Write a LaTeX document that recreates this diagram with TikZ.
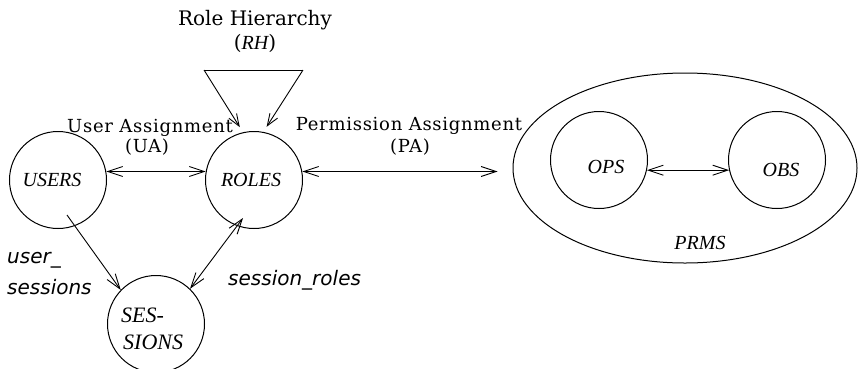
\documentclass[tikz,border=0pt]{standalone}
\usepackage{fontspec}
\setmainfont{DejaVu Serif}
\newfontfamily\spacedserif{DejaVu Serif}[LetterSpace=4]
\newfontfamily\timesf{Liberation Serif}
\newfontfamily\dvsans{DejaVu Sans}
\usetikzlibrary{arrows.meta,shapes.geometric,calc}
\tikzset{
  setnode/.style={circle, draw, line width=1pt, minimum size=97pt, inner sep=0pt},
  tip/.tip={Straight Barb[length=15pt,width=10pt]},
  smalltip/.tip={Straight Barb[length=12pt,width=9pt]},
  onearrow/.style={line width=0.9pt, -tip},
  twoarrow/.style={line width=0.9pt, tip-tip},
  setlbl/.style={font=\timesf\itshape\fontsize{20}{24}\selectfont, inner sep=0pt},
  rellbl/.style={font=\spacedserif\fontsize{18}{20}\selectfont, inner sep=0pt},
  sesslbl/.style={font=\dvsans\itshape\fontsize{20}{24}\selectfont, inner sep=0pt, anchor=west},
}
\begin{document}
\begin{tikzpicture}[x=1pt,y=-1pt]
\useasboundingbox (0,0) rectangle (858,368);
% sets
\node[setnode] (users) at (58,180) {};
\node[setnode] (roles) at (254,180) {};
\node[setnode] (sessions) at (156,324) {};
\node[ellipse, draw, line width=1pt, minimum width=344pt, minimum height=190pt, inner sep=0pt] (prms) at (685,168) {};
\node[setnode] (ops) at (599,160) {};
\node[setnode] (obs) at (777,160) {};
% set labels
\node[setlbl] (usersl) at (52,180) {USERS};
\node[setlbl] (rolesl) at (251,180) {ROLES};
\node[setlbl] (opsl) at (606,167) {OPS};
\node[setlbl] (obsl) at (781,170) {OBS};
\node[setlbl] (prmsl) at (700,243) {PRMS};
\node[setlbl, anchor=west, font=\timesf\itshape\fontsize{22}{24}\selectfont] (ses1) at (121,315) {SES-};
\node[setlbl, anchor=west, font=\timesf\itshape\fontsize{22}{24}\selectfont] (ses2) at (123,342) {SIONS};
% relation labels
\node[rellbl, font=\fontsize{20}{24}\selectfont] (rh1) at (255,20) {Role Hierarchy};
\node[rellbl, font=\fontsize{20}{24}\selectfont] (rh2) at (255,43) {({\timesf\itshape RH})};
\node[rellbl] (ua1) at (150,128) {User Assignment};
\node[rellbl] (ua2) at (147,147) {(UA)};
\node[rellbl] (pa1) at (409,126) {Permission Assignment};
\node[rellbl] (pa2) at (410,147) {(PA)};
\node[sesslbl] (us1) at (7,260) {user\_};
\node[sesslbl] (us2) at (7,287) {sessions};
\node[sesslbl] (sr) at (228,280) {session\_roles};
% role hierarchy triangle
\coordinate (tl) at (204,70);
\coordinate (tr) at (303,70);
\draw[line width=0.9pt] (tl) -- (tr);
\draw[line width=0.9pt, -smalltip, shorten >=6pt] (tl) -- (roles.103);
\draw[line width=0.9pt, -smalltip, shorten >=6pt] (tr) -- (roles.79);
% assignments
\draw[twoarrow] (users.10) -- (roles.170);
\draw[twoarrow, shorten >=15pt] (roles.10) -- (prms.west |- roles.10);
\draw[twoarrow] (ops.-12) -- (obs.192);
% sessions
\coordinate (usstart) at (67,215);
\draw[onearrow] (usstart) -- (sessions.136);
\coordinate (srend) at (243,218);
\draw[twoarrow] (sessions.46) -- (srend);
\end{tikzpicture}
\end{document}
